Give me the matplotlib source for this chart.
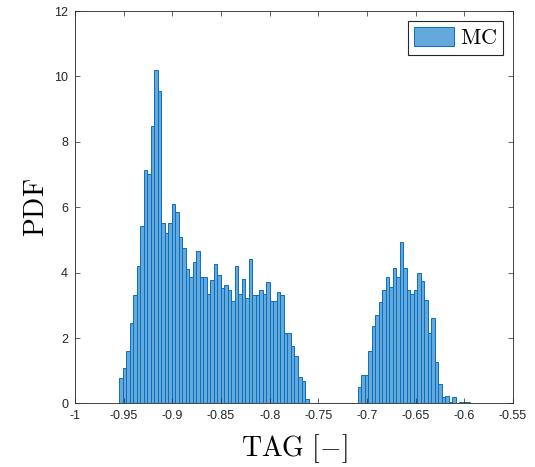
import numpy as np
import matplotlib.pyplot as plt

plt.rcParams['font.family'] = 'Liberation Sans'
plt.rcParams['mathtext.fontset'] = 'cm'
plt.rcParams['axes.unicode_minus'] = False

# histogram bins (100 bins) and the pdf value read for each bin
bin_lo = -0.9545
bin_hi = -0.5945
n_bins = 100

pdf = [0.77, 1.07, 1.59, 2.45, 3.32, 4.19, 5.44, 7.14, 7.03, 8.47,
       10.21, 9.56, 5.52, 5.20, 5.52, 6.10, 5.87, 5.09, 4.75, 4.10,
       3.88, 4.33, 4.67, 3.88, 3.88, 3.36, 3.77, 4.27, 3.92, 3.53,
       3.61, 3.48, 3.14, 4.19, 3.36, 3.81, 3.23, 4.42, 3.32, 3.32,
       3.48, 3.35, 3.71, 3.14, 3.14, 3.42, 3.32, 2.16, 2.16, 1.76,
       1.45, 0.80, 0.68, 0.13, 0.0, 0.0, 0.0, 0.0, 0.0, 0.0,
       0.0, 0.0, 0.0, 0.0, 0.0, 0.0, 0.0, 0.0, 0.51, 0.88,
       0.88, 1.62, 2.36, 2.71, 3.10, 3.48, 3.87, 3.57, 4.13, 3.87,
       4.95, 4.13, 3.48, 3.35, 3.48, 3.98, 3.75, 3.17, 2.15, 2.62,
       1.26, 0.60, 0.21, 0.24, 0.06, 0.19, 0.02, 0.05, 0.05, 0.05]

xticks = [-1, -0.95, -0.9, -0.85, -0.8, -0.75, -0.7, -0.65, -0.6, -0.55]
xtick_labels = ['-1', '-0.95', '-0.9', '-0.85', '-0.8', '-0.75', '-0.7', '-0.65', '-0.6', '-0.55']
yticks = [0, 2, 4, 6, 8, 10, 12]

edges = np.linspace(bin_lo, bin_hi, n_bins + 1)
centers = (edges[:-1] + edges[1:]) / 2

fig = plt.figure(figsize=(5.35, 4.67), dpi=100)
ax = fig.add_axes([0.1402, 0.136, 0.8187, 0.8404])

ax.hist(centers, bins=edges, weights=pdf, color='#64a9db',
        edgecolor='#0b6fbe', linewidth=0.7, label=r'$\mathrm{MC}$')
# empty bins still show their blue outline along the base
ax.plot([bin_lo, bin_hi], [0.02, 0.02], color='#0b6fbe', lw=0.8, zorder=1)

ax.set_xlim(-1, -0.55)
ax.set_ylim(0, 12)
ax.set_xticks(xticks)
ax.set_xticklabels(xtick_labels)
ax.set_yticks(yticks)

dark = '#262626'
ax.tick_params(direction='in', top=True, right=True, length=3.5, width=0.5,
               labelsize=9, colors=dark, pad=5)
for s in ax.spines.values():
    s.set_linewidth(0.6)
    s.set_color(dark)
    s.set_zorder(3)

ax.set_xlabel(r'$\mathrm{TAG}\ [{-}]$', fontsize=20, labelpad=7)
ax.set_ylabel(r'$\mathrm{PDF}$', fontsize=20, labelpad=3)

leg = ax.legend(loc='upper right', fontsize=16, handlelength=1.8, handleheight=1.0,
                fancybox=False, framealpha=1, borderaxespad=0.45,
                borderpad=0.25, handletextpad=0.3)
leg.get_frame().set_edgecolor(dark)
leg.get_frame().set_linewidth(0.8)

fig.savefig('out.png', dpi=100)
